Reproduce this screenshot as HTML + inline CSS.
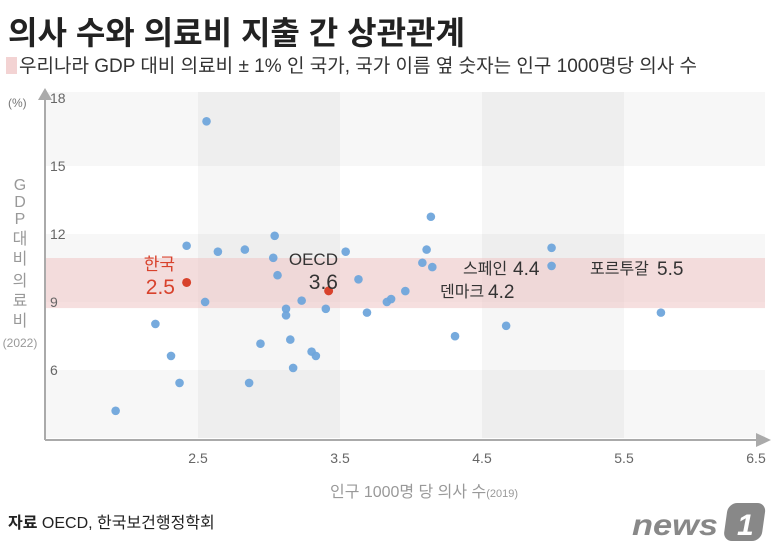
<!DOCTYPE html>
<html><head><meta charset="utf-8"><style>
html,body{margin:0;padding:0;background:#fff;width:780px;height:551px;overflow:hidden}
svg{display:block;font-family:"Liberation Sans","Noto Sans CJK KR",sans-serif}
</style></head><body>
<svg id="chart" width="780" height="551" viewBox="0 0 780 551">
<text x="8" y="44" font-size="32" font-weight="bold" fill="#222" textLength="457" lengthAdjust="spacingAndGlyphs">의사 수와 의료비 지출 간 상관관계</text>
<rect x="6" y="57" width="11" height="17" fill="#f3d3d3"/>
<text x="19" y="72" font-size="19" fill="#333" textLength="678" lengthAdjust="spacingAndGlyphs">우리나라 GDP 대비 의료비 ± 1% 인 국가, 국가 이름 옆 숫자는 인구 1000명당 의사 수</text>
<g id="bg"></g>
<g id="axes"></g>
<g id="pts"></g>
<g id="labels"></g>
<text x="8" y="107" font-size="12" fill="#777">(%)</text>
<g font-size="16" fill="#999" text-anchor="middle">
<text x="20" y="190">G</text><text x="20" y="207">D</text><text x="20" y="224">P</text>
<text x="20" y="244">대</text><text x="20" y="264">비</text><text x="20" y="286">의</text><text x="20" y="306">료</text><text x="20" y="326">비</text>
<text x="20" y="347" font-size="12">(2022)</text></g>
<text x="330" y="497" font-size="16" fill="#999" textLength="188" lengthAdjust="spacingAndGlyphs">인구 1000명 당 의사 수<tspan font-size="11">(2019)</tspan></text>
<text x="8" y="528" font-size="16" fill="#222"><tspan font-weight="bold">자료</tspan> OECD, 한국보건행정학회</text>
<g>
<rect x="727" y="503" width="38" height="38" rx="9" fill="#888" transform="skewX(-8) translate(72 0)"/>
<text x="632" y="535" font-size="30" font-weight="bold" font-style="italic" fill="#888" textLength="86" lengthAdjust="spacingAndGlyphs">news</text>
<text x="737" y="535" font-size="30" font-weight="bold" font-style="italic" fill="#fff">1</text></g>
</svg>
<script>
const xTicks=[2.5,3.5,4.5,5.5,6.5];
const yTicks=[6,9,12,15,18];
const xs=[2.56,2.42,2.64,2.83,3.04,3.03,3.06,3.54,3.63,3.96,2.55,3.23,3.12,3.12,3.40,3.69,3.83,3.86,2.20,2.94,3.15,3.30,3.33,2.31,3.17,2.37,2.86,1.92,4.14,4.11,4.08,4.15,4.99,4.99,4.31,4.67,5.76];
const ys=[16.97,11.48,11.22,11.31,11.92,10.95,10.18,11.22,10.0,9.48,9.0,9.06,8.70,8.41,8.70,8.53,9.0,9.13,8.03,7.16,7.34,6.81,6.62,6.62,6.09,5.43,5.43,4.20,12.76,11.31,10.73,10.54,11.39,10.59,7.49,7.95,8.53];
const highlightNames=["Korea","OECD"];
const highlightX=[2.42,3.42];
const highlightY=[9.86,9.49];
const bandRange=[8.73,10.94];
const NS="http://www.w3.org/2000/svg";
const X=v=>198+(v-2.5)*142;
const Y=v=>438-(v-3)*22.67;
const L=45,R=765,T=92,B=438;
function mk(p,tag,a){const e=document.createElementNS(NS,tag);for(const k in a)e.setAttribute(k,a[k]);p.appendChild(e);return e;}
const bg=document.getElementById('bg');
const rowEdges=[3,6,9,12,15,18.26];
for(let i=0;i<rowEdges.length-1;i++){
 const r=mk(bg,'rect',{x:L,y:Y(rowEdges[i+1]),width:R-L,height:Y(rowEdges[i])-Y(rowEdges[i+1]),fill:(i%2===0)?'#f7f7f7':'#ffffff'});
 
 
}
for(const c of [[2.5,3.5],[4.5,5.5]]){
 const r=mk(bg,'rect',{x:X(c[0]),y:T,width:X(c[1])-X(c[0]),height:B-T,fill:'#000','fill-opacity':'0.035'});
 
 
}
const band=mk(bg,'rect',{x:L,y:Y(bandRange[1]),width:R-L,height:Y(bandRange[0])-Y(bandRange[1]),fill:'#f0caca','fill-opacity':'0.6'});


const ax=document.getElementById('axes');
const ya=mk(ax,'line',{x1:L,y1:B+2,x2:L,y2:96,stroke:'#aaa','stroke-width':2});


const yar=mk(ax,'path',{d:`M${L-7} 100 L${L} 88 L${L+7} 100 Z`,fill:'#aaa'});


const xa=mk(ax,'line',{x1:L,y1:B+2,x2:760,y2:B+2,stroke:'#aaa','stroke-width':2});


const xar=mk(ax,'path',{d:`M756 ${B-5} L771 ${B+2} L756 ${B+9} Z`,fill:'#aaa'});


xTicks.forEach((t,i)=>{
 const e=mk(ax,'text',{x:i===xTicks.length-1?X(t)-10:X(t),y:B+25,'font-size':14,fill:'#666','text-anchor':'middle'});
 e.textContent=t;
 
 
});
yTicks.forEach(t=>{
 const e=mk(ax,'text',{x:50,y:Y(t)+5,'font-size':14,fill:'#666'});
 e.textContent=t;
 
 
});
const pts=document.getElementById('pts');
xs.forEach((v,i)=>{
 const c=mk(pts,'circle',{cx:X(v),cy:Y(ys[i]),r:4.3,fill:'#6fa5db','fill-opacity':0.95});
 
 
});
highlightX.forEach((v,i)=>{
 const c=mk(pts,'circle',{cx:X(v),cy:Y(highlightY[i]),r:4.5,fill:'#d8422c'});
 
 
});
const lb=document.getElementById('labels');
function lab(x,y,txt,size,fill,anchor,name){
 const e=mk(lb,'text',{x:x,y:y,'font-size':size,fill:fill,'text-anchor':anchor||'start'});
 e.textContent=txt;
 
 
 return e;}
lab(175,270,'한국',17,'#d8422c','end','korea-label');
lab(175,294,'2.5',21,'#d8422c','end','korea-value');
lab(338,265,'OECD',17,'#333','end','oecd-label');
lab(338,289,'3.6',21,'#333','end','oecd-value');
lab(463,274,'스페인',16,'#333','start','spain-label');
lab(513,275,'4.4',19,'#333','start','spain-value');
lab(440,297,'덴마크',16,'#333','start','denmark-label');
lab(488,298,'4.2',19,'#333','start','denmark-value');
lab(590,274,'포르투갈',16,'#333','start','portugal-label');
lab(657,275,'5.5',19,'#333','start','portugal-value');
</script>
</body></html>
